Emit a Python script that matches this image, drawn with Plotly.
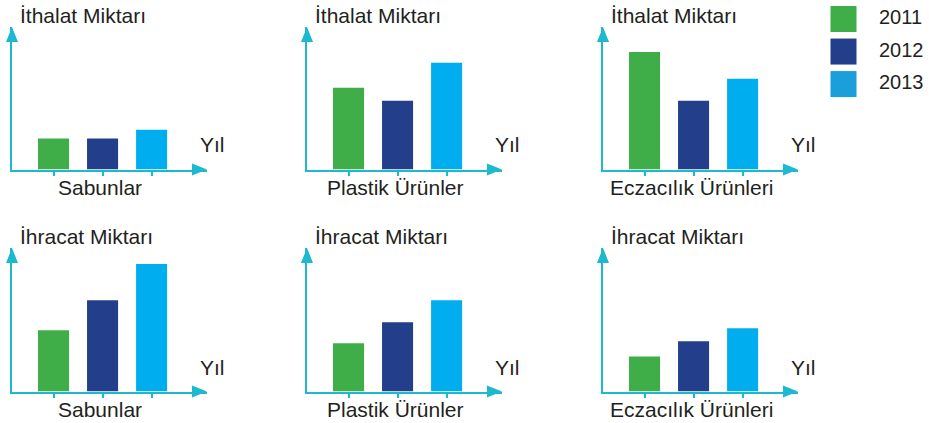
import plotly.graph_objects as go

# ---- data ----
years = ["2011", "2012", "2013"]
products = ["Sabunlar", "Plastik Ürünler", "Eczacılık Ürünleri"]
row_titles = ["İthalat Miktarı", "İhracat Miktarı"]
ithalat_sabunlar = [31, 31, 40]
ithalat_plastik = [82, 69, 107]
ithalat_eczacilik = [118, 69, 91]
ihracat_sabunlar = [61, 91, 127]
ihracat_plastik = [48, 69, 91]
ihracat_eczacilik = [35, 50, 63]
axis_label = "Yıl"

# ---- style ----
W, H = 929, 423
bar_colors = ["#3FAE49", "#233E8B", "#00AEEF"]
legend_colors = ["#3FAE49", "#233E8B", "#1A9FDA"]
axis_color = "#1CB9CF"
text_color = "#231F20"
font_family = "Liberation Sans, Arial, Helvetica, sans-serif"

def PX(x):
    return x / W

def PY(y):
    return 1 - y / H

panel_x = [12, 307, 603]
base_y = [169.5, 391.5]
tip_y = [27, 248]
axis_len = 195
yr_max = 143

rows = [
    [ithalat_sabunlar, ithalat_plastik, ithalat_eczacilik],
    [ihracat_sabunlar, ihracat_plastik, ihracat_eczacilik],
]

fig = go.Figure()
shapes = []
annotations = []
layout = {}

k = 0
for r in range(2):
    for c in range(3):
        k += 1
        xa = "x" if k == 1 else f"x{k}"
        ya = "y" if k == 1 else f"y{k}"
        vals = rows[r][c]
        fig.add_trace(go.Bar(
            x=years, y=vals, xaxis=xa, yaxis=ya,
            marker=dict(color=bar_colors, line=dict(width=0)),
            width=0.633, showlegend=False, hoverinfo="x+y",
        ))
        ax = panel_x[c]
        b = base_y[r]
        t = tip_y[r]
        xkey = "xaxis" if k == 1 else f"xaxis{k}"
        ykey = "yaxis" if k == 1 else f"yaxis{k}"
        layout[xkey] = dict(
            domain=[PX(ax), PX(ax + axis_len)], anchor=ya,
            type="category", categoryorder="array", categoryarray=years,
            range=[-0.847, 3.13], showline=True, linecolor=axis_color, linewidth=2,
            ticks="outside", ticklen=4, tickwidth=2, tickcolor=axis_color,
            showticklabels=False, showgrid=False, zeroline=False, fixedrange=True,
        )
        layout[ykey] = dict(
            domain=[PY(b), PY(t)], anchor=xa, range=[0, yr_max],
            showline=True, linecolor=axis_color, linewidth=2, ticks="",
            showticklabels=False, showgrid=False, zeroline=False, fixedrange=True,
        )
        # arrowheads
        tx = ax + axis_len
        shapes.append(dict(
            type="path", xref="paper", yref="paper",
            path=f"M {PX(tx)} {PY(b)} L {PX(tx-15)} {PY(b-6)} L {PX(tx-15)} {PY(b+6)} Z",
            fillcolor=axis_color, line=dict(width=0),
        ))
        shapes.append(dict(
            type="path", xref="paper", yref="paper",
            path=f"M {PX(ax)} {PY(t)} L {PX(ax-6)} {PY(t+15)} L {PX(ax+6)} {PY(t+15)} Z",
            fillcolor=axis_color, line=dict(width=0),
        ))
        # texts
        annotations.append(dict(
            text=row_titles[r], x=PX(ax + 6), y=PY(t - 12), xref="paper", yref="paper",
            xanchor="left", yanchor="middle", showarrow=False,
            font=dict(size=21, color=text_color, family=font_family),
        ))
        annotations.append(dict(
            text=axis_label, x=PX(ax + 186), y=PY(b - 24.5), xref="paper", yref="paper",
            xanchor="left", yanchor="middle", showarrow=False,
            font=dict(size=21, color=text_color, family=font_family),
        ))
        annotations.append(dict(
            text=products[c], x=PX(ax + 88), y=PY(b + 17.5), xref="paper", yref="paper",
            xanchor="center", yanchor="middle", showarrow=False,
            font=dict(size=21, color=text_color, family=font_family),
        ))

# legend as its own small axis
fig.add_trace(go.Scatter(
    x=[0] * len(years), y=years, xaxis="x7", yaxis="y7", mode="markers",
    marker=dict(symbol="square", size=26, color=legend_colors, line=dict(width=0)),
    showlegend=False, hoverinfo="skip", cliponaxis=False,
))
fig.add_trace(go.Scatter(
    x=[1] * len(years), y=years, xaxis="x7", yaxis="y7", mode="text",
    text=years, textposition="middle right",
    textfont=dict(size=20, color=text_color, family=font_family),
    showlegend=False, hoverinfo="skip", cliponaxis=False,
))
layout["xaxis7"] = dict(domain=[PX(831), 1], anchor="y7", range=[-0.352, 2.408],
                        visible=False, fixedrange=True)
layout["yaxis7"] = dict(domain=[PY(100), 1], anchor="x7", type="category",
                        categoryorder="array", categoryarray=years,
                        range=[2.49, -0.585], visible=False, fixedrange=True)

fig.update_layout(
    width=W, height=H, margin=dict(l=0, r=0, t=0, b=0),
    paper_bgcolor="white", plot_bgcolor="white",
    shapes=shapes, annotations=annotations, showlegend=False,
    font=dict(family=font_family, color=text_color),
    **layout,
)

fig.write_html(
    "out.html",
    config={"displayModeBar": False},
    post_script="document.body.style.margin='0';document.body.style.overflow='hidden';",
)
